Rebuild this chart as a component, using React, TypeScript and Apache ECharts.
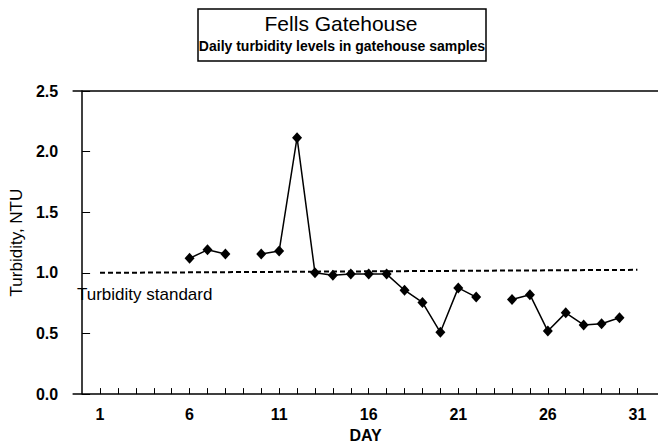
import React, { useEffect, useRef } from "react";
import * as echarts from "echarts";

const days = [6, 7, 8, 9, 10, 11, 12, 13, 14, 15, 16, 17, 18, 19, 20, 21, 22, 23, 24, 25, 26, 27, 28, 29, 30];
const turbidity: (number | null)[] = [
  1.12, 1.19, 1.155, null, 1.155, 1.18, 2.115, 1.0, 0.98, 0.99, 0.99, 0.99, 0.857, 0.756, 0.51,
  0.876, 0.8, null, 0.78, 0.82, 0.52, 0.67, 0.57, 0.58, 0.63,
];
const standardDays = [1, 31];
const standardValues = [1.0, 1.025];
const xTickValues = [1, 2, 3, 4, 5, 6, 7, 8, 9, 10, 11, 12, 13, 14, 15, 16, 17, 18, 19, 20, 21, 22, 23, 24, 25, 26, 27, 28, 29, 30, 31];
const xLabelValues = [1, 6, 11, 16, 21, 26, 31];

const FONT = "'Liberation Sans', Arial, sans-serif";

export default function App() {
  const ref = useRef<HTMLDivElement>(null);
  useEffect(() => {
    if (!ref.current) return;
    const chart = echarts.init(ref.current, null, { renderer: "svg" });
    chart.setOption({
      animation: false,
      backgroundColor: "#fff",
      textStyle: { fontFamily: FONT, color: "#000" },
      grid: { left: 73, right: 0, top: 91, bottom: 43 },
      xAxis: [
        {
          type: "value",
          min: -0.5,
          max: 32.15,
          axisLine: { show: true, lineStyle: { color: "#000", width: 1.5 } },
          axisTick: { show: true, inside: true, length: 6, customValues: xTickValues, lineStyle: { color: "#000", width: 1 } },
          axisLabel: {
            customValues: xLabelValues,
            color: "#000",
            fontFamily: FONT,
            fontSize: 16,
            fontWeight: "bold",
            margin: 12,
          },
          splitLine: { show: false },
          name: "DAY",
          nameLocation: "middle",
          nameGap: 28,
          nameTextStyle: { color: "#000", fontFamily: FONT, fontSize: 16, fontWeight: "bold" },
        },
        {
          type: "value",
          position: "top",
          min: -0.5,
          max: 32.15,
          axisLine: { show: true, lineStyle: { color: "#000", width: 1.5 } },
          axisTick: { show: false },
          axisLabel: { show: false },
          splitLine: { show: false },
        },
      ],
      yAxis: {
        type: "value",
        min: 0,
        max: 2.5,
        interval: 0.5,
        axisLine: { show: true, lineStyle: { color: "#000", width: 1.5 } },
        axisTick: { show: true, inside: true, length: 8, lineStyle: { color: "#000", width: 1 } },
        axisLabel: {
          formatter: (v: number) => v.toFixed(1),
          color: "#000",
          fontFamily: FONT,
          fontSize: 16,
          fontWeight: "bold",
          margin: 15,
        },
        splitLine: { show: false },
        name: "Turbidity, NTU",
        nameLocation: "middle",
        nameRotate: 90,
        nameGap: 47,
        nameTextStyle: { color: "#000", fontFamily: FONT, fontSize: 17 },
      },
      series: [
        {
          type: "line",
          data: standardDays.map((d, i) => [d, standardValues[i]]),
          showSymbol: false,
          symbol: "none",
          lineStyle: { color: "#000", width: 2, type: [5, 3] },
          silent: true,
          z: 1,
        },
        {
          type: "line",
          data: days.map((d, i) => [d, turbidity[i] === null ? "-" : turbidity[i]]),
          connectNulls: false,
          symbol: "diamond",
          symbolSize: [10, 11],
          itemStyle: { color: "#000" },
          lineStyle: { color: "#000", width: 1.5 },
          z: 3,
        },
      ],
      graphic: [
        {
          type: "rect",
          shape: { x: 198, y: 9, width: 288, height: 52 },
          style: { fill: "#fff", stroke: "#000", lineWidth: 1.5 },
        },
        {
          type: "text",
          x: 341,
          y: 23,
          style: {
            text: "Fells Gatehouse",
            fontFamily: FONT,
            fontSize: 21,
            fill: "#000",
            align: "center",
            verticalAlign: "middle",
          },
        },
        {
          type: "text",
          x: 342,
          y: 46,
          style: {
            text: "Daily turbidity levels in gatehouse samples",
            fontFamily: FONT,
            fontSize: 14,
            fontWeight: "bold",
            fill: "#000",
            align: "center",
            verticalAlign: "middle",
          },
        },
        {
          type: "text",
          x: 77,
          y: 294,
          style: {
            text: "Turbidity standard",
            fontFamily: FONT,
            fontSize: 17,
            fill: "#000",
            align: "left",
            verticalAlign: "middle",
          },
        },
      ],
    });
    return () => chart.dispose();
  }, []);
  return <div ref={ref} style={{ width: 658, height: 448, position: "absolute", left: 0, top: 0 }} />;
}
